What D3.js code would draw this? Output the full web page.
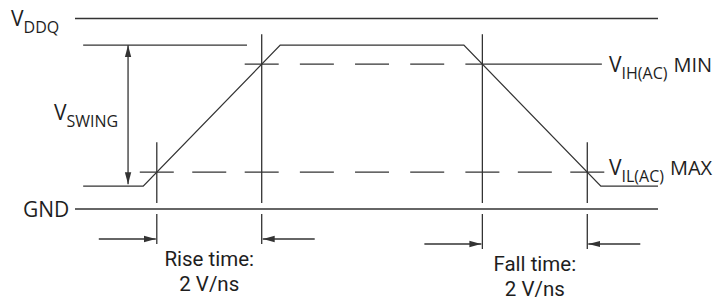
<!DOCTYPE html>
<html>
<head>
<meta charset="UTF-8">
<title>Input signal slew rate</title>
<script src="https://d3js.org/d3.v7.min.js"></script>
<style>
body { margin: 0; background: #fff; }
figure { margin: 0; }
text { font-family: "Open Sans", sans-serif; fill: #1e1e1e; }
text.caption { font-family: Roboto, sans-serif; }
</style>
</head>

<body>

<figure class=chart></figure>

<script type="text/javascript">

/* Data */
var levelNames = ['VDDQ', 'HIGH', 'VIH', 'VIL', 'LOW', 'GND'];
var levelVolts = [1.5, 1.29, 1.14, 0.29, 0.18, 0];
var waveTime = [0.14, 1.17, 3.52, 6.67, 9.02, 10];
var waveVolts = [0.18, 0.18, 1.29, 1.29, 0.18, 0.18];
var labelMain = ['V', 'V', 'GND', 'V', 'V'];
var labelSub = ['DDQ', 'SWING', '', 'IH(AC)', 'IL(AC)'];
var labelSuffix = ['', '', '', 'MIN', 'MAX'];
var edgeNames = ['Rise time:', 'Fall time:'];
var edgeRates = ['2 V/ns', '2 V/ns'];

/* Global variables */
var W = 728, H = 301
var ink = '#333'
var x = d3.scaleLinear().domain([0, 10]).range([75, 658])
var y = d3.scaleLinear().domain([0, 1.5]).range([209, 18.5])
var volt = function(name) { return levelVolts[levelNames.indexOf(name)]; }
var svg

/* Functions */

// time where the ramp between waveform points i and i+1 reaches v
function cross(i, v) {
	var f = (v - waveVolts[i]) / (waveVolts[i+1] - waveVolts[i])
	return waveTime[i] + f * (waveTime[i+1] - waveTime[i])
}

function line(x1, y1, x2, y2) {
	return svg.append('line')
		.attr('x1', x1).attr('y1', y1)
		.attr('x2', x2).attr('y2', y2)
		.style('stroke', ink)
		.style('stroke-width', 1.3)
}

function draw_canvas() {
	svg = d3.select('figure')
		.append('svg')
		.attr('width', W)
		.attr('height', H)

	var marker = svg.append('defs').append('marker')
		.attr('id', 'head')
		.attr('viewBox', '0 0 12 8')
		.attr('refX', 12)
		.attr('refY', 4)
		.attr('markerWidth', 12)
		.attr('markerHeight', 8)
		.attr('markerUnits', 'userSpaceOnUse')
		.attr('orient', 'auto-start-reverse')
	marker.append('path')
		.attr('d', 'M0,0.8 L12,4 L0,7.2 Z')
		.style('fill', ink)
}

function draw_rails() {
	line(x(0), y(volt('VDDQ')), x(10), y(volt('VDDQ')))
	line(x(0), y(volt('GND')), x(10), y(volt('GND')))
	// reference for the top of the swing
	line(x(waveTime[0]), y(volt('HIGH')), x(2.95), y(volt('HIGH')))
}

function draw_wave() {
	var path = d3.line()
		.x(function(d) { return x(d); })
		.y(function(d, i) { return y(waveVolts[i]); })
	svg.append('path')
		.attr('d', path(waveTime))
		.style('fill', 'none')
		.style('stroke', ink)
		.style('stroke-width', 1.3)
}

function draw_swing() {
	line(x(0.91), y(volt('HIGH')), x(0.91), y(volt('LOW')) - 2)
		.attr('marker-start', 'url(#head)')
		.attr('marker-end', 'url(#head)')
}

function draw_thresholds() {
	var half = 17
	var riseIL = x(cross(1, volt('VIL'))), riseIH = x(cross(1, volt('VIH')))
	var fallIH = x(cross(3, volt('VIH'))), fallIL = x(cross(3, volt('VIL')))
	var crossings = [[riseIL, volt('VIL')], [riseIH, volt('VIH')], [fallIH, volt('VIH')], [fallIL, volt('VIL')]]

	// dashed line: short solid pieces at each crossing, dashes between
	function dashed(v, xs, solidTo) {
		var yy = y(v)
		xs.forEach(function(cx, i) {
			var last = (i == xs.length - 1)
			line(cx - half, yy, (last && solidTo) ? solidTo : cx + half, yy)
			if (last) return
			var a = cx + half, b = xs[i+1] - half
			var n = Math.max(0, Math.round((b - a - 21) / 56))
			var gap = (b - a - n * 34) / (n + 1)
			for (var k = 0; k < n; k++) {
				var s = a + gap + k * (34 + gap)
				line(s, yy, s + 34, yy)
			}
		})
	}
	dashed(volt('VIH'), [riseIH, fallIH], x(waveTime[4]) + 1)
	dashed(volt('VIL'), [riseIL, riseIH, fallIH, fallIL])

	// vertical markers, broken around GND
	var g0 = y(volt('GND'))
	crossings.forEach(function(c, i) {
		var arrowY = i < 2 ? 239 : 244
		line(c[0], y(c[1]) - 30, c[0], g0 - 6)
		line(c[0], g0 + 5, c[0], arrowY + 5)
	})

	// rise / fall measurement arrows and two-line captions
	var pairs = [[riseIL, riseIH], [fallIH, fallIL]]
	pairs.forEach(function(p, i) {
		var arrowY = i == 0 ? 239 : 244
		line(p[0] - 58, arrowY, p[0] - 1, arrowY).attr('marker-end', 'url(#head)')
		line(p[1] + 53, arrowY, p[1] + 1, arrowY).attr('marker-end', 'url(#head)')
		var mid = (p[0] + p[1]) / 2
		var t = svg.append('text')
			.attr('class', 'caption')
			.attr('x', mid).attr('y', arrowY + 27)
			.attr('text-anchor', 'middle')
			.style('font-size', '20.5px')
		t.append('tspan').attr('x', mid).text(edgeNames[i])
		t.append('tspan').attr('x', mid).attr('dy', 24.5).text(edgeRates[i])
	})
}

function draw_labels() {
	var lx = [11, 54, 23, 609, 609]
	var ly = [y(volt('VDDQ')) + 7, 120, y(volt('GND')) + 8, y(volt('VIH')) + 8, y(volt('VIL')) + 3]
	labelMain.forEach(function(m, i) {
		var t = svg.append('text')
			.attr('x', lx[i]).attr('y', ly[i])
			.style('font-size', '21px')
		t.append('tspan').text(m)
		if (labelSub[i]) {
			t.append('tspan')
				.attr('dy', 7)
				.style('font-size', '16px')
				.text(labelSub[i])
		}
		if (labelSuffix[i]) {
			t.append('tspan')
				.attr('dy', -7)
				.attr('dx', 6)
				.style('font-size', '20px')
				.text(labelSuffix[i])
		}
	})
}

/* Main code */
draw_canvas()
draw_rails()
draw_wave()
draw_swing()
draw_thresholds()
draw_labels()

</script>

</body>

</html>
